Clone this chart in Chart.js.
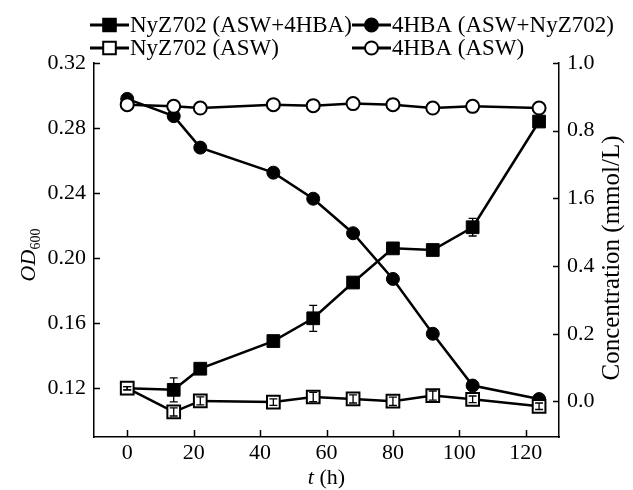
<!DOCTYPE html>
<html>
<head>
<meta charset="utf-8">
<script src="https://cdn.jsdelivr.net/npm/chart.js@4.4.1/dist/chart.umd.min.js"></script>
<style>
  html, body { margin: 0; padding: 0; background: #ffffff; }
  #wrap { width: 633px; height: 490px; }
</style>
</head>
<body>
<div id="wrap"><canvas id="chart" width="633" height="490"></canvas></div>
<script>
// Sampling times (h)
const hours = [0, 14, 22, 44, 56, 68, 80, 92, 104, 124];

// OD600, left axis
const odWith4hba = [0.120, 0.119, 0.132, 0.149, 0.163, 0.185, 0.206, 0.205, 0.219, 0.284];
const odWith4hbaErr = [0.001, 0.0074, 0.002, 0.001, 0.008, 0.002, 0.002, 0.002, 0.0054, 0.003];
const odAswOnly = [0.120, 0.1054, 0.1122, 0.1115, 0.1146, 0.1134, 0.112, 0.1155, 0.1132, 0.1089];
const odAswOnlyErr = [0.001, 0.0025, 0.0025, 0.002, 0.0028, 0.0025, 0.0025, 0.0028, 0.002, 0.002];

// 4HBA concentration (mmol/L), right axis
const concWithNyz = [0.894, 0.843, 0.750, 0.676, 0.599, 0.497, 0.362, 0.200, 0.047, 0.007];
const concAswOnly = [0.877, 0.872, 0.867, 0.877, 0.874, 0.880, 0.877, 0.867, 0.872, 0.867];

// Tick labels
const xTicks = [0, 20, 40, 60, 80, 100, 120];
const odTicks = [0.12, 0.16, 0.20, 0.24, 0.28, 0.32];
const concTicks = [0, 0.2, 0.4, 0.6, 0.8, 1.0];
const concTickLabels = ['0.0', '0.2', '0.4', '1.6', '0.8', '1.0'];

const seriesNames = ['NyZ702 (ASW+4HBA)', '4HBA (ASW+NyZ702)', 'NyZ702 (ASW)', '4HBA (ASW)'];

const FONT = '"Liberation Serif", "Times New Roman", serif';

function toPoints(values) {
    return hours.map((h, i) => ({ x: h, y: values[i] }));
}

// Inward tick marks
const inwardTicks = {
    id: 'inwardTicks',
    afterDraw(chart) {
        const ctx = chart.ctx;
        const a = chart.chartArea;
        const sx = chart.scales.x, sl = chart.scales.yOD, sr = chart.scales.yConc;
        ctx.save();
        ctx.strokeStyle = '#000';
        ctx.lineWidth = 1.5;
        ctx.beginPath();
        xTicks.forEach(v => {
            const p = Math.round(sx.getPixelForValue(v)) + 0.5;
            ctx.moveTo(p, a.bottom);
            ctx.lineTo(p, a.bottom - 7);
        });
        odTicks.forEach(v => {
            const p = Math.round(sl.getPixelForValue(v)) + 0.5;
            ctx.moveTo(a.left, p);
            ctx.lineTo(a.left + 6, p);
        });
        concTicks.forEach(v => {
            const p = Math.round(sr.getPixelForValue(v)) + 0.5;
            ctx.moveTo(a.right, p);
            ctx.lineTo(a.right - 6, p);
        });
        ctx.stroke();
        ctx.restore();
    }
};

// Error bars for datasets that carry an errorBars array
const errorBars = {
    id: 'errorBars',
    afterDatasetsDraw(chart) {
        const ctx = chart.ctx;
        ctx.save();
        ctx.strokeStyle = '#000';
        ctx.lineWidth = 1.3;
        chart.data.datasets.forEach(ds => {
            if (!ds.errorBars) return;
            const ys = chart.scales[ds.yAxisID];
            const xs = chart.scales.x;
            ds.data.forEach((pt, j) => {
                const e = ds.errorBars[j];
                const px = xs.getPixelForValue(pt.x);
                const top = ys.getPixelForValue(pt.y + e);
                const bot = ys.getPixelForValue(pt.y - e);
                ctx.beginPath();
                ctx.moveTo(px, top);
                ctx.lineTo(px, bot);
                ctx.moveTo(px - 4, top);
                ctx.lineTo(px + 4, top);
                ctx.moveTo(px - 4, bot);
                ctx.lineTo(px + 4, bot);
                ctx.stroke();
            });
        });
        ctx.restore();
    }
};

function drawMarker(ctx, style, filled, x, y) {
    ctx.beginPath();
    if (style === 'rect') {
        ctx.rect(x - 6.3, y - 6.3, 12.6, 12.6);
    } else {
        ctx.arc(x, y, 6.5, 0, Math.PI * 2);
    }
    ctx.fillStyle = filled ? '#000' : '#fff';
    ctx.fill();
    ctx.lineWidth = 2;
    ctx.strokeStyle = '#000';
    ctx.stroke();
}

// Two-column legend and axis titles
const legendAndTitles = {
    id: 'legendAndTitles',
    afterDraw(chart) {
        const ctx = chart.ctx;
        const a = chart.chartArea;
        ctx.save();

        // legend
        const cols = [90, 352];
        const rows = [25, 48];
        const items = [
            { col: 0, row: 0, style: 'rect', filled: true },
            { col: 1, row: 0, style: 'circle', filled: true },
            { col: 0, row: 1, style: 'rect', filled: false },
            { col: 1, row: 1, style: 'circle', filled: false }
        ];
        ctx.font = '23px ' + FONT;
        ctx.textBaseline = 'middle';
        ctx.textAlign = 'left';
        items.forEach((it, i) => {
            const x0 = cols[it.col], y = rows[it.row];
            ctx.strokeStyle = '#000';
            ctx.lineWidth = 3;
            ctx.beginPath();
            ctx.moveTo(x0, y);
            ctx.lineTo(x0 + 39, y);
            ctx.stroke();
            drawMarker(ctx, it.style, it.filled, x0 + 19.5, y);
            ctx.fillStyle = '#000';
            ctx.fillText(seriesNames[i], x0 + 40, y + 1);
        });

        // x title: italic t + " (h)"
        ctx.textBaseline = 'alphabetic';
        ctx.textAlign = 'left';
        const cx = (a.left + a.right) / 2;
        ctx.font = 'italic 22px ' + FONT;
        const wT = ctx.measureText('t').width;
        ctx.font = '22px ' + FONT;
        const wH = ctx.measureText(' (h)').width;
        const sx = cx - (wT + wH) / 2;
        ctx.font = 'italic 22px ' + FONT;
        ctx.fillText('t', sx, 484);
        ctx.font = '22px ' + FONT;
        ctx.fillText(' (h)', sx + wT, 484);

        // left title: OD with subscript 600
        ctx.save();
        ctx.translate(35, 255);
        ctx.rotate(-Math.PI / 2);
        ctx.font = 'italic 22px ' + FONT;
        const wOD = ctx.measureText('OD').width;
        ctx.font = '14px ' + FONT;
        const w600 = ctx.measureText('600').width;
        const start = -(wOD + w600) / 2;
        ctx.font = 'italic 22px ' + FONT;
        ctx.fillText('OD', start, 0);
        ctx.font = '14px ' + FONT;
        ctx.fillText('600', start + wOD, 5);
        ctx.restore();

        // right title
        ctx.save();
        ctx.translate(612, 258);
        ctx.rotate(-Math.PI / 2);
        ctx.font = '25px ' + FONT;
        ctx.textAlign = 'center';
        ctx.textBaseline = 'middle';
        ctx.fillText('Concentration (mmol/L)', 0, 0);
        ctx.restore();

        ctx.restore();
    }
};

const tickFont = { family: FONT, size: 22 };

const chart = new Chart(document.getElementById('chart'), {
    type: 'line',
    data: {
        datasets: [
            {
                label: seriesNames[0],
                data: toPoints(odWith4hba),
                errorBars: odWith4hbaErr,
                yAxisID: 'yOD',
                borderColor: '#000',
                borderWidth: 2.5,
                pointStyle: 'rect',
                pointRadius: 9,
                pointBackgroundColor: '#000',
                pointBorderColor: '#000',
                pointBorderWidth: 1,
                order: 3
            },
            {
                label: seriesNames[1],
                data: toPoints(concWithNyz),
                yAxisID: 'yConc',
                borderColor: '#000',
                borderWidth: 2.5,
                pointStyle: 'circle',
                pointRadius: 6.5,
                pointBackgroundColor: '#000',
                pointBorderColor: '#000',
                pointBorderWidth: 1,
                order: 2
            },
            {
                label: seriesNames[2],
                data: toPoints(odAswOnly),
                errorBars: odAswOnlyErr,
                yAxisID: 'yOD',
                borderColor: '#000',
                borderWidth: 2.5,
                pointStyle: 'rect',
                pointRadius: 9,
                pointBackgroundColor: '#fff',
                pointBorderColor: '#000',
                pointBorderWidth: 2,
                order: 1
            },
            {
                label: seriesNames[3],
                data: toPoints(concAswOnly),
                yAxisID: 'yConc',
                borderColor: '#000',
                borderWidth: 2.5,
                pointStyle: 'circle',
                pointRadius: 6.5,
                pointBackgroundColor: '#fff',
                pointBorderColor: '#000',
                pointBorderWidth: 2,
                order: 0
            }
        ]
    },
    options: {
        responsive: false,
        animation: false,
        layout: { padding: { top: 63, left: 0, right: 0, bottom: 0 } },
        plugins: {
            legend: { display: false },
            tooltip: { enabled: false }
        },
        scales: {
            x: {
                type: 'linear',
                min: -10,
                max: 130,
                afterBuildTicks: s => { s.ticks = xTicks.map(v => ({ value: v })); },
                afterFit: s => { s.height = 53; },
                ticks: { font: tickFont, color: '#000', padding: -5, maxRotation: 0 },
                grid: { display: false },
                border: { display: true, color: '#000', width: 1.5 }
            },
            yOD: {
                type: 'linear',
                position: 'left',
                min: 0.09,
                max: 0.32,
                afterBuildTicks: s => { s.ticks = odTicks.map(v => ({ value: v })); },
                afterFit: s => { s.width = 94; },
                ticks: {
                    font: tickFont, color: '#000', padding: 0,
                    callback: v => v.toFixed(2)
                },
                grid: { display: false },
                border: { display: true, color: '#000', width: 1.5 }
            },
            yConc: {
                type: 'linear',
                position: 'right',
                min: -0.105,
                max: 1.0,
                afterBuildTicks: s => { s.ticks = concTicks.map(v => ({ value: v })); },
                afterFit: s => { s.width = 74; },
                ticks: {
                    font: tickFont, color: '#000', padding: 0,
                    callback: (v, i) => concTickLabels[i]
                },
                grid: { display: false },
                border: { display: true, color: '#000', width: 1.5 }
            }
        }
    },
    plugins: [inwardTicks, errorBars, legendAndTitles]
});
</script>
</body>
</html>
